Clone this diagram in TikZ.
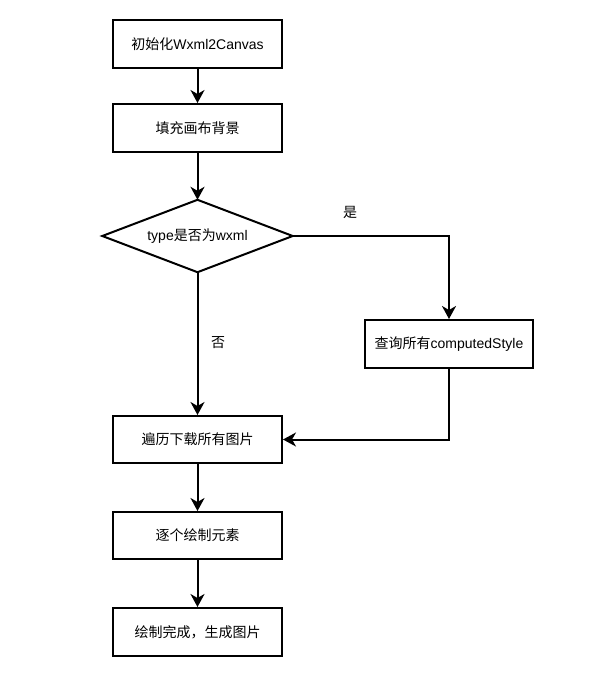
\documentclass[tikz,border=0pt]{standalone}
\usepackage{fontspec}
\setmainfont{Liberation Sans}
\newfontfamily\cjk{Noto Sans CJK SC}
\usetikzlibrary{arrows.meta}
\begin{document}
\begin{tikzpicture}[x=1pt,y=-1pt,
  every node/.style={font=\fontsize{14}{16}\selectfont},
  proc/.style={draw, line width=2pt, minimum width=169pt, minimum height=48pt, inner sep=0pt, fill=white},
  conn/.style={line width=2pt, -{Stealth[length=13pt,width=14pt,inset=4pt]}},
  lbl/.style={inner sep=0pt}]
\fill[white] (0,0) rectangle (596,682);
\useasboundingbox (0,0) rectangle (596,682);
\node[proc] (b1) at (197.5,44) {{\cjk 初始化}Wxml2Canvas};
\node[proc] (b2) at (197.5,128) {\cjk 填充画布背景};
\node[minimum width=190pt, minimum height=72pt, inner sep=0pt] (d) at (197.5,236) {type{\cjk 是否为}wxml};
\draw[line width=2pt, line join=miter] (d.north) -- (d.east) -- (d.south) -- (d.west) -- cycle;
\node[proc, minimum width=168pt] (rb) at (449,344) {{\cjk 查询所有}computedStyle};
\node[proc, minimum height=47pt] (b4) at (197.5,439.5) {\cjk 遍历下载所有图片};
\node[proc, minimum height=47pt] (b5) at (197.5,535.5) {\cjk 逐个绘制元素};
\node[proc] (b6) at (197.5,632) {\cjk 绘制完成，生成图片};
\node[lbl] (yes) at (350,212) {\cjk 是};
\node[lbl] (no) at (218,343) {\cjk 否};
\draw[conn] (b1.south) -- (b2.north);
\draw[conn] (b2.south) -- (d.north);
\draw[conn] (d.east) -| (rb.north);
\draw[conn] (d.south) -- (b4.north);
\draw[conn] (rb.south) |- (b4.east);
\draw[conn] (b4.south) -- (b5.north);
\draw[conn] (b5.south) -- (b6.north);
\end{tikzpicture}
\end{document}
